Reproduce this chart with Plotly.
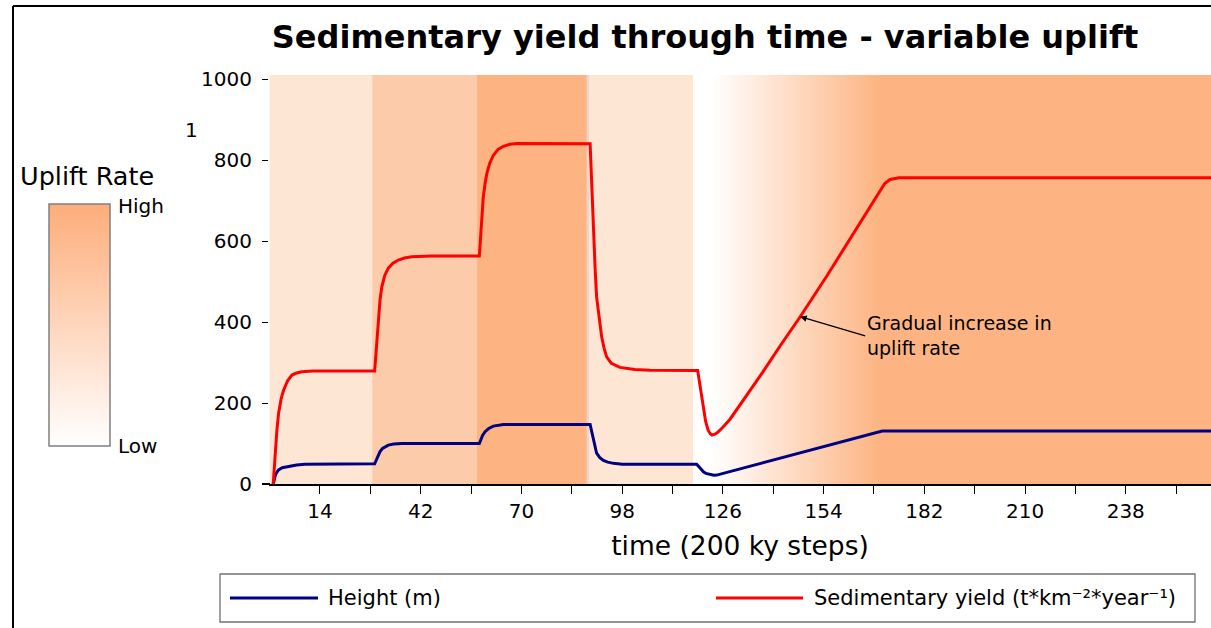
import plotly.graph_objects as go

# ---- data -----------------------------------------------------------------
# time in 200 ky steps
time_yield = [1, 1.3, 1.6, 2.0, 2.5, 3.2, 3.9, 5.0, 6.2, 7.5, 9.0, 12,
              29.2, 29.5, 29.8, 30.2, 30.7, 31.2, 32.0, 33.0, 34.3, 35.8, 37.5,
              39.5, 45,
              58.3, 58.8, 59.4, 59.9, 60.4, 61.2, 62.2, 63.5, 65.0, 66.8, 68.7,
              89.1, 89.5, 90.0, 90.5, 90.9, 91.6, 92.3, 93.0, 93.7, 95.0, 97.4,
              101.5, 105.8, 119.0, 119.7, 120.5, 121.2, 121.9, 122.5, 123.0,
              123.8, 124.5, 126, 128, 130, 133, 137, 142, 147.5, 155, 163, 169,
              171, 172.5, 175, 262]
sed_yield = [0, 45, 84, 130, 175, 210, 232, 255, 269, 274, 277, 279,
             279, 315, 356, 413, 455, 487, 515, 533, 545, 553, 558,
             561, 563,
             563, 640, 709, 742, 767, 792, 812, 826, 834, 839, 841,
             840, 740, 627, 530, 462, 405, 364, 335, 314, 298, 288,
             283, 281, 280, 240, 185, 155, 133, 124, 121,
             123, 127, 140, 160, 185, 222, 275, 342, 413, 515, 630, 715,
             742, 752, 756, 756]

time_height = [1, 1.3, 1.6, 2.0, 2.5, 3.5, 5.3, 7.5, 9.8,
               29.2, 29.6, 30.1, 30.7, 31.4, 32.2, 33.0, 34.5, 36.7,
               58.3, 58.7, 59.2, 59.9, 60.9, 62.2, 63.5, 65.0,
               89.1, 89.5, 89.9, 90.4, 90.9, 91.8, 92.8, 94.0, 95.6, 98,
               118.7, 119.3, 120.0, 120.6, 121.3, 122.0, 122.8, 123.5, 124.3,
               169.5, 170.3, 262]
height_m = [0, 12, 22, 29, 35, 40, 44, 47, 49,
            50, 58, 70, 80, 88, 93, 96, 98.5, 100,
            100, 110, 120, 129, 137, 143, 145.5, 147,
            147, 130, 110, 90, 76, 65, 58, 54, 51, 49,
            49, 43, 35, 30, 26, 24, 22, 21.5, 22,
            130, 131, 131]

# uplift phases: (start, end, colour)
phase_start = [0, 28.5, 57.5, 88.9]
phase_end = [28.5, 57.5, 88.2, 117.7]
phase_color = ["#FEE6D5", "#FCCBA9", "#FDB482", "#FEE6D5"]
ramp_start, ramp_full, ramp_end = 123.0, 169.7, 262

x_tickvals = [14, 28, 42, 56, 70, 84, 98, 112, 126, 140, 154, 168, 182, 196,
              210, 224, 238, 252]
x_ticktext = ["14", "", "42", "", "70", "", "98", "", "126", "", "154", "",
              "182", "", "210", "", "238", ""]
y_tickvals = [0, 200, 400, 600, 800, 1000]

# ---- figure geometry helpers (figure pixels -> paper fractions) -------------
W, H = 1211, 628


def px(x):
    return x / W


def py(y):
    return 1 - y / H


FONT = "DejaVu Sans"
Y_TOP = 1010

fig = go.Figure()

# gradual-uplift background ramp
fig.add_trace(go.Scatter(
    x=[ramp_start, ramp_end, ramp_end, ramp_start, ramp_start],
    y=[0, 0, Y_TOP, Y_TOP, 0],
    mode="lines", line=dict(width=0), fill="toself",
    fillgradient=dict(type="horizontal", start=ramp_start, stop=ramp_full,
                      colorscale=[[0, "#FFFFFF"], [1, "#FDB482"]]),
    hoverinfo="skip", showlegend=False,
))

fig.add_trace(go.Scatter(
    x=time_height, y=height_m, mode="lines", name="Height (m)",
    line=dict(color="#000080", width=3), showlegend=False,
))
fig.add_trace(go.Scatter(
    x=time_yield, y=sed_yield, mode="lines",
    name="Sedimentary yield (t*km⁻²*year⁻¹)",
    line=dict(color="#FF0000", width=3), showlegend=False,
))

# colour bar for the uplift rate on its own small axes
fig.add_trace(go.Scatter(
    x=[0, 1, 1, 0, 0], y=[0, 0, 1, 1, 0], xaxis="x2", yaxis="y2",
    mode="lines", line=dict(width=0), fill="toself",
    fillgradient=dict(type="vertical", start=0, stop=1,
                      colorscale=[[0, "#FFFFFF"], [1, "#FDAD7A"]]),
    hoverinfo="skip", showlegend=False,
))

shapes = []
for s, e, c in zip(phase_start, phase_end, phase_color):
    shapes.append(dict(type="rect", xref="x", yref="y", x0=s, x1=e, y0=0,
                       y1=Y_TOP, fillcolor=c, line=dict(width=0),
                       layer="below"))
# thin seam between the high and relaxed phases
shapes.append(dict(type="rect", xref="x", yref="y", x0=phase_end[2],
                   x1=phase_start[3], y0=0, y1=Y_TOP, fillcolor="#E9D5C9",
                   line=dict(width=0), layer="below"))
# x axis line extended slightly to the left of the plot
shapes.append(dict(type="line", xref="paper", yref="paper", x0=px(262),
                   x1=px(270), y0=py(484), y1=py(484),
                   line=dict(color="black", width=2)))
# frame lines
shapes.append(dict(type="line", xref="paper", yref="paper", x0=px(13),
                   x1=1, y0=py(6), y1=py(6), line=dict(color="black", width=2)))
shapes.append(dict(type="line", xref="paper", yref="paper", x0=px(13),
                   x1=px(13), y0=py(6), y1=0, line=dict(color="black", width=2)))
# colour bar border
shapes.append(dict(type="rect", xref="paper", yref="paper", x0=px(49),
                   x1=px(110), y0=py(446), y1=py(204),
                   line=dict(color="#808080", width=1.5)))
# legend box and keys
shapes.append(dict(type="rect", xref="paper", yref="paper", x0=px(220),
                   x1=px(1195), y0=py(622), y1=py(574),
                   line=dict(color="#707070", width=1.3), fillcolor="white"))
shapes.append(dict(type="line", xref="paper", yref="paper", x0=px(230),
                   x1=px(318), y0=py(598), y1=py(598),
                   line=dict(color="#000080", width=3)))
shapes.append(dict(type="line", xref="paper", yref="paper", x0=px(716),
                   x1=px(803), y0=py(598), y1=py(598),
                   line=dict(color="#FF0000", width=3)))

annotations = [
    dict(x=147.5, y=413, xref="x", yref="y", ax=65, ay=19,
         text="Gradual increase in<br>uplift rate", showarrow=True,
         arrowhead=2, arrowsize=1, arrowwidth=1.3, arrowcolor="black",
         xanchor="left", yanchor="middle", align="left",
         font=dict(family=FONT, size=19, color="black")),
    dict(x=px(18), y=py(176), xref="paper", yref="paper", text="Uplift Rate",
         showarrow=False, xanchor="left", yanchor="middle",
         font=dict(family=FONT, size=25.5, color="black")),
    dict(x=px(116), y=py(206), xref="paper", yref="paper", text="High",
         showarrow=False, xanchor="left", yanchor="middle",
         font=dict(family=FONT, size=20, color="black")),
    dict(x=px(116), y=py(446), xref="paper", yref="paper", text="Low",
         showarrow=False, xanchor="left", yanchor="middle",
         font=dict(family=FONT, size=20, color="black")),
    dict(x=px(191), y=py(130), xref="paper", yref="paper", text="1",
         showarrow=False, xanchor="center", yanchor="middle",
         font=dict(family=FONT, size=20, color="black")),
    dict(x=px(326), y=py(598), xref="paper", yref="paper", text="Height (m)",
         showarrow=False, xanchor="left", yanchor="middle",
         font=dict(family=FONT, size=21, color="black")),
    dict(x=px(812), y=py(598), xref="paper", yref="paper",
         text="Sedimentary yield (t*km⁻²*year⁻¹)",
         showarrow=False, xanchor="left", yanchor="middle",
         font=dict(family=FONT, size=21, color="black")),
]

fig.update_layout(
    width=W, height=H,
    autosize=False,
    margin=dict(l=0, r=0, t=0, b=0, pad=0, autoexpand=False),
    paper_bgcolor="white", plot_bgcolor="white",
    showlegend=False,
    font=dict(family=FONT, color="black"),
    title=dict(text="<b>Sedimentary yield through time - variable uplift</b>",
               x=px(705), y=py(37), xref="container", yref="container",
               xanchor="center", yanchor="middle", automargin=False,
               font=dict(family=FONT, size=32, color="black")),
    xaxis=dict(domain=[px(269), 1], range=[-0.17, 261.7], automargin=False,
               showgrid=False, zeroline=False,
               showline=True, linecolor="black", linewidth=2,
               ticks="outside", ticklen=8, tickwidth=1.3, tickcolor="black",
               tickvals=x_tickvals, ticktext=x_ticktext,
               tickfont=dict(family=FONT, size=20, color="black"),
               title=dict(text="time (200 ky steps)", standoff=14,
                          font=dict(family=FONT, size=26.5, color="black"))),
    yaxis=dict(domain=[py(484), py(75)], range=[0, Y_TOP], automargin=False,
               showgrid=False, zeroline=False, showline=False,
               ticks="outside", ticklen=6, tickwidth=1.3, tickcolor="black",
               tickvals=y_tickvals, ticklabelstandoff=6,
               tickfont=dict(family=FONT, size=20, color="black")),
    xaxis2=dict(domain=[px(49), px(110)], range=[0, 1], anchor="y2",
                visible=False, fixedrange=True, automargin=False),
    yaxis2=dict(domain=[py(446), py(204)], range=[0, 1], anchor="x2",
                visible=False, fixedrange=True, automargin=False),
    shapes=shapes,
    annotations=annotations,
)

fig.write_html("out.html")
